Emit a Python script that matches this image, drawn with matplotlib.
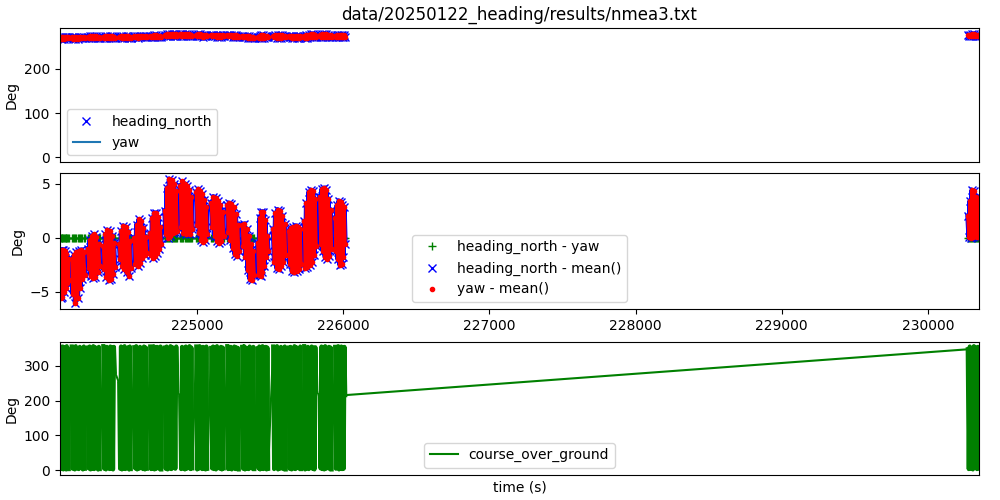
import numpy as np
import matplotlib.pyplot as plt
from matplotlib.lines import Line2D

# Segment boundaries in time (s): each segment is one "lobe" in the heading
# plot and one dense band in the course-over-ground plot
seg_start = [224063, 224143, 224253, 224359, 224468, 224571, 224680, 224779, 224885, 224995,
             225097, 225207, 225309, 225415, 225521, 225627, 225733, 225839, 225945, 230272]
seg_end = [224123, 224233, 224335, 224438, 224547, 224657, 224756, 224865, 224968, 225070,
           225183, 225286, 225392, 225487, 225607, 225713, 225816, 225921, 226014, 230349]

# yaw - mean(): upper and lower swing values read along each segment (deg)
dev_top = [
    [-1.2, -1.1, -1.1, -1.2, -1.5, -2.0],
    [-2.0, -1.6, -1.3, -1.2, -1.1, -1.3],
    [-1.0, -0.2, 0.2, 0.3, 0.1, -0.6],
    [-0.8, 0.3, 0.7, 0.6, 0.2, -0.5],
    [-0.6, 0.6, 1.1, 1.0, 0.5, -0.3],
    [0.0, 1.2, 1.7, 1.5, 0.9, 0.1],
    [0.4, 1.8, 2.3, 2.3, 1.9, 1.0],
    [2.5, 4.6, 5.4, 5.3, 5.0, 4.3],
    [4.8, 5.2, 5.0, 4.8, 4.4, 3.8],
    [4.2, 4.5, 4.3, 4.0, 3.5, 2.8],
    [3.2, 3.8, 3.7, 3.4, 3.0, 2.4],
    [3.0, 3.2, 3.1, 2.8, 2.2, 1.2],
    [1.2, 1.3, 0.8, 0.2, -0.6, -1.2],
    [-0.5, 1.8, 2.4, 2.4, 1.6, 0.2],
    [0.8, 2.3, 2.6, 2.5, 2.0, 1.3],
    [0.6, 0.9, 1.0, 1.1, 1.0, 0.8],
    [1.5, 3.2, 4.2, 4.4, 4.3, 3.6],
    [3.8, 4.5, 4.6, 4.4, 3.6, 2.6],
    [1.8, 3.0, 3.4, 3.3, 3.0, 2.8],
    [2.0, 3.4, 4.4, 4.3, 3.8, 3.5],
]
dev_bot = [
    [-5.6, -5.5, -5.0, -4.6, -4.2, -3.9],
    [-5.2, -6.0, -5.6, -4.6, -3.8, -3.4],
    [-2.8, -3.5, -3.7, -3.6, -3.2, -2.6],
    [-2.9, -3.6, -3.9, -3.8, -3.3, -2.7],
    [-2.0, -2.6, -2.9, -3.2, -3.5, -2.8],
    [-2.4, -2.6, -2.3, -1.9, -1.6, -1.4],
    [-1.6, -1.85, -1.7, -1.4, -1.0, -0.6],
    [0.3, 0.0, 0.2, 0.4, 0.5, 0.6],
    [1.0, 0.4, 0.3, 0.4, 0.3, 0.8],
    [1.2, 0.4, -0.2, -0.4, -0.2, 0.3],
    [1.0, 0.2, -0.3, -0.5, -0.3, 0.2],
    [0.5, -0.2, -0.9, -1.5, -1.7, -1.2],
    [-0.8, -1.8, -3.0, -3.8, -3.9, -3.4],
    [-3.4, -3.5, -3.2, -2.6, -1.8, -1.2],
    [-2.2, -2.8, -2.9, -2.6, -2.2, -1.6],
    [-2.4, -3.1, -3.2, -3.1, -2.9, -2.4],
    [-2.8, -2.7, -2.5, -2.2, -1.6, -0.8],
    [-0.6, -1.2, -1.8, -2.0, -1.7, -1.0],
    [-1.2, -2.0, -2.5, -2.4, -1.8, -0.6],
    [0.1, 0.0, 0.1, 0.2, 0.1, 0.2],
]
yaw_mean = 274.0

# course over ground samples per segment (deg), wrapping around north
cog_seg = [
    [355, 3, 352, 6, 356, 2, 350, 4, 354, 2, 357, 5, 351, 3],
    [356, 4, 353, 2, 357, 5, 351, 3, 355, 6, 352, 2, 356, 4],
    [353, 5, 356, 2, 351, 4, 357, 3, 354, 6, 352, 2, 355, 3],
    [357, 4, 352, 2, 355, 6, 350, 3, 356, 5, 353, 2, 355, 283],
    [250, 4, 356, 2, 352, 5, 357, 3, 351, 6, 354, 2, 356, 3],
    [354, 5, 357, 2, 352, 4, 355, 6, 350, 3, 356, 2, 353, 4],
    [356, 3, 351, 5, 357, 2, 353, 4, 355, 6, 352, 3, 356, 2],
    [353, 4, 356, 2, 350, 5, 357, 3, 354, 6, 352, 4, 356, 231],
    [210, 3, 355, 5, 352, 2, 356, 4, 351, 6, 357, 3, 353, 5],
    [356, 2, 353, 4, 357, 6, 351, 3, 355, 5, 352, 2, 356, 4],
    [352, 5, 356, 3, 354, 2, 357, 6, 350, 4, 355, 2, 353, 5],
    [357, 3, 352, 4, 355, 2, 351, 6, 356, 3, 354, 5, 352, 2],
    [355, 4, 357, 2, 353, 5, 350, 3, 356, 6, 352, 4, 355, 3],
    [351, 5, 356, 2, 354, 4, 357, 3, 352, 6, 355, 2, 353, 4],
    [356, 3, 353, 6, 357, 2, 351, 4, 355, 5, 352, 3, 356, 2],
    [353, 4, 355, 2, 350, 5, 357, 3, 354, 6, 351, 4, 356, 3],
    [357, 2, 352, 5, 355, 3, 351, 6, 356, 4, 353, 2, 354, 231],
    [210, 5, 356, 3, 352, 2, 357, 4, 351, 6, 355, 3, 353, 2],
    [355, 4, 351, 6, 357, 2, 353, 5, 356, 3, 352, 4, 355, 216],
    [348, 3, 356, 4, 352, 2, 357, 6, 353, 3, 355, 5],
]


def zigzag(tops, bots):
    vals = []
    for hi, lo in zip(tops, bots):
        vals += [hi, lo]
    return vals


t_parts, yaw_parts, tc_parts, cog_parts = [], [], [], []
for s, e, hi, lo, c in zip(seg_start, seg_end, dev_top, dev_bot, cog_seg):
    v = zigzag(hi, lo)
    t_parts.append(np.linspace(s, e, len(v)))
    yaw_parts.append(yaw_mean + np.array(v))
    tc_parts.append(np.linspace(s, e, len(c)))
    cog_parts.append(np.array(c, dtype=float))

t = np.concatenate(t_parts)
yaw = np.concatenate(yaw_parts)
heading_north = yaw.copy()
t_cog = np.concatenate(tc_parts)
course_over_ground = np.concatenate(cog_parts)

fig = plt.figure(figsize=(10, 5), dpi=100)
ax1 = fig.add_axes([0.06, 0.676, 0.919, 0.268])
ax2 = fig.add_axes([0.06, 0.382, 0.919, 0.272])
ax3 = fig.add_axes([0.06, 0.05, 0.919, 0.266])

# top: raw heading and yaw
ax1.plot(t, heading_north, 'bx')
for tp, yp in zip(t_parts, yaw_parts):
    ax1.plot(tp, yp, 'r-', lw=2)
ax1.plot(t, yaw, 'r.')
ax1.set_ylim(-11, 293)
handles = [Line2D([], [], color='b', marker='x', ls=''), Line2D([], [], color='C0')]
ax1.legend(handles, ['heading_north', 'yaw'], loc='lower left')
ax1.set_title('data/20250122_heading/results/nmea3.txt')
ax1.set_ylabel('Deg')

# middle: differences / deviations from the mean
ax2.plot(t, heading_north - yaw, 'g+', label='heading_north - yaw')
for tp, yp in zip(t_parts, yaw_parts):
    ax2.plot(tp, yp - yaw_mean, 'b-', lw=3.5)
ax2.plot(t, heading_north - yaw_mean, 'bx', label='heading_north - mean()')
for tp, yp in zip(t_parts, yaw_parts):
    ax2.plot(tp, yp - yaw_mean, 'r-', lw=2.2)
ax2.plot(t, yaw - yaw_mean, 'r.', label='yaw - mean()')
ax2.legend(loc='lower center')
ax2.set_ylabel('Deg')

# bottom: course over ground (dense bands drawn a bit thicker so they read solid)
for tp, cp in zip(tc_parts, cog_parts):
    ax3.plot(tp, cp, color='g', lw=3)
ax3.plot(t_cog, course_over_ground, 'g-', label='course_over_ground')
ax3.set_ylim(-14, 369)
ax3.legend(loc='lower center')
ax3.set_ylabel('Deg')
ax3.set_xlabel('time (s)')

for ax in (ax1, ax2, ax3):
    ax.set_xlim(t.min(), t.max())
ax1.set_xticks([])
ax3.set_xticks([])

plt.savefig('out.png')
